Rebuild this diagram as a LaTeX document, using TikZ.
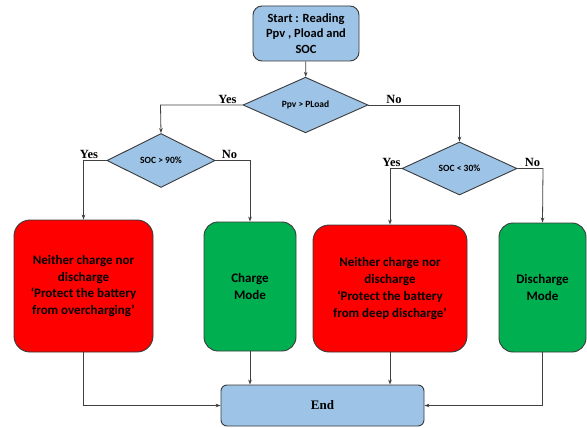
\documentclass[tikz,border=0pt]{standalone}
\usepackage{fontspec}
\setmainfont{Carlito}
\newfontfamily\timesf{Liberation Serif}
\usetikzlibrary{shapes.geometric,arrows.meta}
\definecolor{boxblue}{HTML}{9DC3E6}
\definecolor{boxred}{HTML}{FF0000}
\definecolor{boxgreen}{HTML}{00B050}
\definecolor{edge}{HTML}{3A3A3A}
\definecolor{wire}{HTML}{404040}
\tikzset{
  base/.style={draw=edge, line width=0.9pt, align=center, inner sep=0pt, font=\bfseries},
  startbox/.style={base, fill=boxblue, rounded corners=9pt, minimum width=106pt, minimum height=55pt, font=\fontsize{12.5}{15.8}\selectfont\bfseries},
  decision/.style={base, fill=boxblue, diamond, font=\fontsize{9.5}{10}\selectfont\bfseries},
  redbox/.style={base, fill=boxred, rounded corners=16pt, font=\fontsize{13}{16.7}\selectfont\bfseries},
  greenbox/.style={base, fill=boxgreen, rounded corners=14pt, font=\fontsize{13}{16.7}\selectfont\bfseries},
  endbox/.style={base, fill=boxblue, rounded corners=6pt, minimum width=203pt, minimum height=41pt, font=\fontsize{13}{15}\selectfont\timesf\bfseries},
  lbl/.style={anchor=south, inner sep=0pt, font=\fontsize{12.5}{14}\selectfont\timesf\bfseries},
  conn/.style={draw=wire, line width=0.8pt},
  arr/.style={conn, -{Stealth[length=5pt,width=3.6pt]}}
}
\begin{document}
\begin{tikzpicture}[x=1pt,y=-1pt]
\useasboundingbox (0,0) rectangle (587,428);
\node[startbox] (start) at (306,33.5) {Start : Reading\\Ppv , Pload and\\SOC};
\node[decision, minimum width=125pt, minimum height=51pt] (d1) at (305.5,105) {Ppv > PLoad};
\node[decision, minimum width=108pt, minimum height=54pt] (d2) at (161,160.5) {SOC > 90\%};
\node[decision, minimum width=115pt, minimum height=53pt] (d3) at (459.5,168.5) {SOC < 30\%};
\node[redbox, minimum width=139pt, minimum height=132pt] (r1) at (83.5,286) {Neither charge nor\\discharge\\`Protect the battery\\from overcharging'};
\node[greenbox, minimum width=92pt, minimum height=129pt] (g1) at (250,286.5) {Charge\\Mode};
\node[redbox, minimum width=154pt, minimum height=127pt] (r2) at (390,288.5) {Neither charge nor\\discharge\\`Protect the battery\\from deep discharge'};
\node[greenbox, minimum width=87pt, minimum height=129pt] (g2) at (542.5,287.5) {Discharge\\Mode};
\node[endbox] (end) at (322.5,405.5) {End};
\coordinate (c1) at (160.5,105);
\coordinate (c2) at (459.5,105);
\coordinate (c3) at (83.5,160.5);
\coordinate (c4) at (250,160.5);
\coordinate (c5) at (390,168.5);
\coordinate (c6) at (543,168.5);
\coordinate (c7) at (83.5,405.5);
\coordinate (c8) at (542.5,405.5);
\draw[arr] (start) -- (d1);
\draw[arr] (d1.west) -- (c1) -- (d2.north);
\draw[arr] (d1.east) -- (c2) -- (d3.north);
\draw[arr] (d2.west) -- (c3) -- (r1.north);
\draw[arr] (d2.east) -- (c4) -- (g1.north);
\draw[arr] (d3.west) -- (c5) -- (r2.north);
\draw[arr] (d3.east) -- (c6) -- (g2.north);
\draw[arr] (r1.south) -- (c7) -- (end.west);
\draw[arr] (g1.south) -- (end.north -| g1.south);
\draw[arr] (r2.south) -- (end.north -| r2.south);
\draw[arr] (g2.south) -- (c8) -- (end.east);
\node[lbl] (y1) at (227.5,103.5) {Yes};
\node[lbl] (n1) at (394,103.5) {No};
\node[lbl] (y2) at (89,158.5) {Yes};
\node[lbl] (n2) at (229.5,158.5) {No};
\node[lbl] (y3) at (391.5,166.5) {Yes};
\node[lbl] (n3) at (532.5,166.5) {No};
\end{tikzpicture}
\end{document}
